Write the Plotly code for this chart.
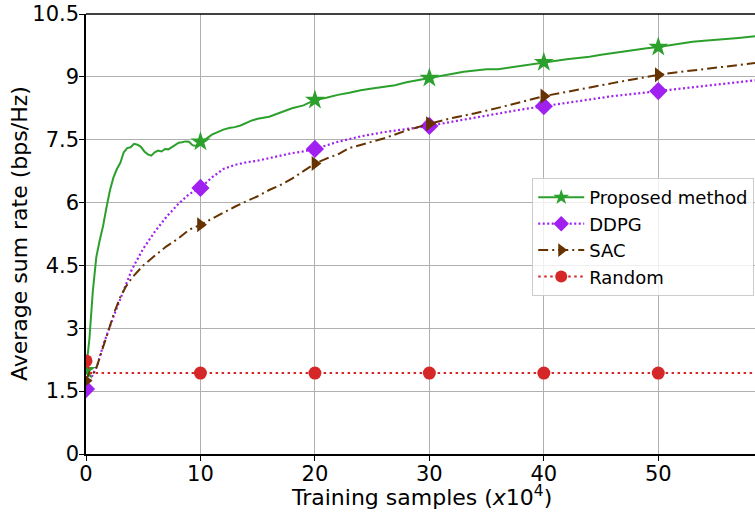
import plotly.graph_objects as go

# ---------------- data ----------------
prop_x = [0, 0.3, 0.6, 0.9, 1.2, 1.5, 1.8, 2.1, 2.4, 2.7, 3.0, 3.3, 3.6, 3.9, 4.2, 4.5, 4.8,
          5.1, 5.4, 5.7, 6.0, 6.3, 6.6, 6.9, 7.2, 7.5, 7.8, 8.1, 8.4, 8.7, 9.0, 9.3, 9.6,
          10, 10.5, 11, 11.5, 12, 12.5, 13, 13.5, 14, 14.5, 15, 16, 17, 18, 19, 20, 21, 22,
          23, 24, 25, 26, 27, 28, 29, 30, 31, 32, 33, 34, 35, 36, 37, 38, 39, 40, 41, 42,
          43, 44, 45, 46, 47, 48, 49, 50, 51, 52, 53, 54, 55, 56, 57, 58.5]
prop_y = [2.0, 2.75, 3.9, 4.7, 5.1, 5.45, 5.9, 6.3, 6.6, 6.8, 6.95, 7.2, 7.3, 7.32, 7.4, 7.38, 7.33,
          7.22, 7.15, 7.12, 7.2, 7.24, 7.22, 7.28, 7.27, 7.33, 7.38, 7.43, 7.44, 7.46, 7.45, 7.37, 7.35,
          7.45, 7.52, 7.62, 7.68, 7.74, 7.78, 7.8, 7.84, 7.9, 7.96, 8.0, 8.05, 8.15, 8.25, 8.32, 8.45, 8.5, 8.57,
          8.62, 8.68, 8.72, 8.76, 8.8, 8.87, 8.92, 8.97, 9.02, 9.08, 9.12, 9.15, 9.18, 9.18, 9.22, 9.26, 9.3, 9.35, 9.38, 9.42,
          9.45, 9.48, 9.53, 9.57, 9.6, 9.65, 9.68, 9.71, 9.75, 9.8, 9.84, 9.86, 9.88, 9.91, 9.93, 9.97]

ddpg_x = [0, 0.5, 1, 1.5, 2, 2.5, 3, 3.5, 4, 5, 6, 7, 8, 9, 10, 11, 12, 13, 14, 15, 16, 17, 18, 19,
          20, 22, 24, 26, 28, 30, 32, 34, 36, 38, 40, 42, 44, 46, 48, 50, 52, 54, 56, 58.5]
ddpg_y = [1.55, 1.85, 2.12, 2.6, 3.0, 3.35, 3.7, 4.05, 4.4, 4.9, 5.3, 5.65, 5.95, 6.2, 6.35, 6.6, 6.8, 6.9,
          6.96, 7.0, 7.06, 7.12, 7.18, 7.22, 7.28, 7.45, 7.58, 7.68, 7.76, 7.83, 7.93, 8.03, 8.12, 8.22,
          8.3, 8.38, 8.46, 8.54, 8.6, 8.66, 8.72, 8.78, 8.84, 8.92]

sac_x = [0, 0.3, 0.6, 0.9, 1.2, 1.5, 2, 2.5, 3, 3.5, 4, 5, 6, 7, 8, 9, 10, 11, 12, 13, 14, 15, 16,
         17, 18, 19, 20, 21, 22, 23, 24, 25, 26, 28, 30, 32, 34, 36, 38, 40, 42, 44, 46, 48, 50,
         52, 54, 56, 58.5]
sac_y = [1.75, 1.95, 1.9, 2.05, 2.3, 2.55, 2.95, 3.4, 3.75, 4.0, 4.2, 4.5, 4.73, 4.95, 5.13, 5.35, 5.47,
         5.62, 5.75, 5.9, 6.03, 6.15, 6.3, 6.42, 6.57, 6.75, 6.93, 7.05, 7.15, 7.3, 7.38, 7.45, 7.53,
         7.72, 7.88, 8.02, 8.13, 8.26, 8.4, 8.54, 8.64, 8.75, 8.85, 8.95, 9.05, 9.12, 9.19, 9.25, 9.33]

rand_x = [0, 0.4, 10, 20, 30, 40, 50, 58.5]
rand_y = [2.22, 1.93, 1.93, 1.93, 1.93, 1.93, 1.93, 1.93]

marker_x = [0, 10, 20, 30, 40, 50]

x_ticks = [0, 10, 20, 30, 40, 50]
y_ticks = [0, 1.5, 3, 4.5, 6, 7.5, 9, 10.5]
y_tick_text = ["0", "1.5", "3", "4.5", "6", "7.5", "9", "10.5"]

FONT = "DejaVu Sans"

series = [
    ("Proposed method", prop_x, prop_y, "#2ca02c", "solid", 2, "star", 15),
    ("DDPG", ddpg_x, ddpg_y, "#a020f0", "2px,2.5px", 2.2, "diamond", 14),
    ("SAC", sac_x, sac_y, "#663300", "10px,4px,2px,4px", 2, "triangle-right", 13),
    ("Random", rand_x, rand_y, "#d62728", "2.5px,3.5px", 2, "circle", 13),
]

fig = go.Figure()

for name, xs, ys, color, dash, lw, symbol, msize in series:
    fig.add_trace(go.Scatter(
        x=xs, y=ys, mode="lines", showlegend=False, hoverinfo="skip",
        line=dict(color=color, width=lw, dash=dash),
    ))
    mx = [x for x in xs if x in marker_x]
    my = [y for x, y in zip(xs, ys) if x in marker_x]
    fig.add_trace(go.Scatter(
        x=mx, y=my, mode="markers", showlegend=False, name=name,
        marker=dict(symbol=symbol, size=msize, color=color, line=dict(width=0)),
    ))

for name, xs, ys, color, dash, lw, symbol, msize in series:
    fig.add_trace(go.Scatter(
        x=[None], y=[None], mode="lines+markers", name=name, showlegend=True,
        line=dict(color=color, width=lw, dash=dash),
        marker=dict(symbol=symbol, size=12, color=color, line=dict(width=0)),
    ))

fig.update_layout(
    width=755, height=513,
    margin=dict(l=86, r=0, t=14, b=59),
    paper_bgcolor="white", plot_bgcolor="white",
    font=dict(family=FONT, size=21, color="black"),
    showlegend=True,
    legend=dict(
        x=0.667, y=0.627, xanchor="left", yanchor="top",
        bgcolor="rgba(255,255,255,0.8)", bordercolor="#cccccc", borderwidth=1,
        font=dict(family=FONT, size=18, color="black"),
        itemwidth=46, tracegroupgap=0,
    ),
    xaxis=dict(
        range=[0, 58.45], tickvals=x_ticks, ticktext=[str(v) for v in x_ticks],
        showgrid=True, gridcolor="#b0b0b0", gridwidth=1,
        showline=True, linecolor="black", linewidth=1.5,
        ticks="outside", ticklen=5, tickwidth=1.2, tickcolor="black",
        tickfont=dict(family=FONT, size=21),
        ticklabelstandoff=-5,
        zeroline=False,
    ),
    yaxis=dict(
        range=[0, 10.5], tickvals=y_ticks, ticktext=y_tick_text,
        showgrid=True, gridcolor="#b0b0b0", gridwidth=1,
        showline=True, linecolor="black", linewidth=1.5,
        ticks="outside", ticklen=5, tickwidth=1.2, tickcolor="black",
        tickfont=dict(family=FONT, size=21),
        ticklabelstandoff=-4,
        zeroline=False,
    ),
    annotations=[
        dict(text="Training samples (<i>x</i>10<sup>4</sup>)", xref="paper", yref="paper",
             x=0.502, y=-0.095, xanchor="center", yanchor="middle", showarrow=False,
             font=dict(family=FONT, size=22, color="black")),
        dict(text="Average sum rate (bps/Hz)", xref="paper", yref="paper",
             x=-0.1, y=0.5, xanchor="center", yanchor="middle", textangle=-90, showarrow=False,
             font=dict(family=FONT, size=22, color="black")),
    ],
    shapes=[dict(type="line", xref="paper", yref="paper", x0=0, x1=1, y0=1, y1=1,
                 line=dict(color="black", width=1.5))],
)

fig.write_html("out.html")
